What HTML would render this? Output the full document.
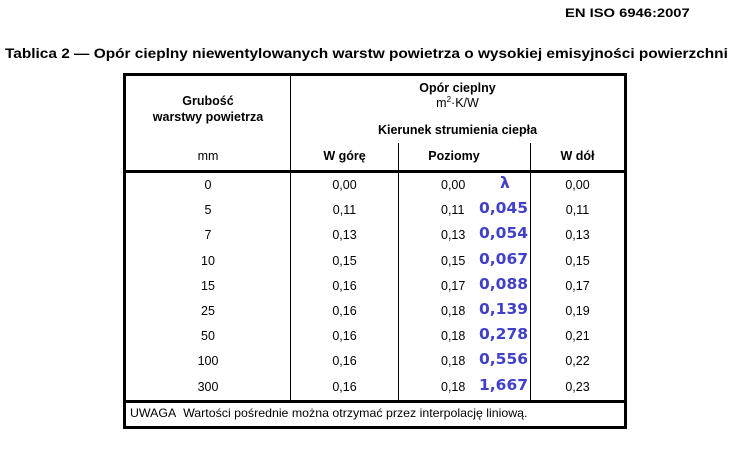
<!DOCTYPE html>
<html><head><meta charset="utf-8"><style>
body{margin:0;width:733px;height:460px;background:#fff;position:relative;font-family:"Liberation Sans",Arial,sans-serif;color:#000;overflow:hidden}
.a{position:absolute;white-space:nowrap}
.c{text-align:center}
.t{font-size:12.5px}
.b{font-weight:bold}
.l{position:absolute;background:#000}
.blue{color:#4040c8;font-weight:bold;font-size:15.5px;font-family:"DejaVu Sans","Liberation Sans",sans-serif}
</style></head><body>
<div class="a b" style="left:565px;top:6px;font-size:12px;transform:scaleX(1.23);transform-origin:0 0">EN ISO 6946:2007</div>
<div class="a b" style="left:5px;top:45px;font-size:14px;transform:scaleX(1.1);transform-origin:0 0">Tablica 2 — Opór cieplny niewentylowanych warstw powietrza o wysokiej emisyjności powierzchni</div>
<!-- borders -->
<div class="l" style="left:123px;top:73px;width:504px;height:3px"></div>
<div class="l" style="left:123px;top:73px;width:3px;height:356px"></div>
<div class="l" style="left:624px;top:73px;width:3px;height:356px"></div>
<div class="l" style="left:123px;top:426px;width:504px;height:3px"></div>
<div class="l" style="left:123px;top:170px;width:504px;height:3px"></div>
<div class="l" style="left:123px;top:400px;width:504px;height:3px"></div>
<div class="l" style="left:290px;top:73px;width:1px;height:328px"></div>
<div class="l" style="left:398px;top:143px;width:1px;height:258px"></div>
<div class="l" style="left:530px;top:143px;width:1px;height:258px"></div>
<!-- header -->
<div class="a c t b" style="left:126px;width:164px;top:93px;line-height:16px">Grubość<br>warstwy powietrza</div>
<div class="a c t" style="left:126px;width:164px;top:149px">mm</div>
<div class="a c t b" style="left:291px;width:333px;top:81px">Opór cieplny</div>
<div class="a c t" style="left:291px;width:333px;top:95px">m<sup style="font-size:8px">2</sup>·K/W</div>
<div class="a c t b" style="left:291px;width:333px;top:123px">Kierunek strumienia ciepła</div>
<div class="a c t b" style="left:291px;width:107px;top:149px">W górę</div>
<div class="a c t b" style="left:399px;width:110px;top:149px">Poziomy</div>
<div class="a c t b" style="left:531px;width:93px;top:149px">W dół</div>
<div id="rows"></div>
<script>
var d=[["0","0,00","0,00","λ","0,00"],["5","0,11","0,11","0,045","0,11"],["7","0,13","0,13","0,054","0,13"],["10","0,15","0,15","0,067","0,15"],["15","0,16","0,17","0,088","0,17"],["25","0,16","0,18","0,139","0,19"],["50","0,16","0,18","0,278","0,21"],["100","0,16","0,18","0,556","0,22"],["300","0,16","0,18","1,667","0,23"]];
var h="";
d.forEach(function(r,i){var y=178+i*25.2;
h+='<div class="a c t" style="left:126px;width:164px;top:'+y+'px">'+r[0]+'</div>';
h+='<div class="a c t" style="left:291px;width:107px;top:'+y+'px">'+r[1]+'</div>';
h+='<div class="a t" style="left:441px;top:'+y+'px">'+r[2]+'</div>';
h+='<div class="a blue" style="left:'+(i==0?500:479)+'px;top:'+(y-4)+'px">'+r[3]+'</div>';
h+='<div class="a c t" style="left:531px;width:93px;top:'+y+'px">'+r[4]+'</div>';});
document.getElementById("rows").innerHTML=h;
</script>
<div class="a" style="left:130px;top:406px;font-size:12px;transform:scaleX(1.03);transform-origin:0 0">UWAGA&nbsp; Wartości pośrednie można otrzymać przez interpolację liniową.</div>
</body></html>
